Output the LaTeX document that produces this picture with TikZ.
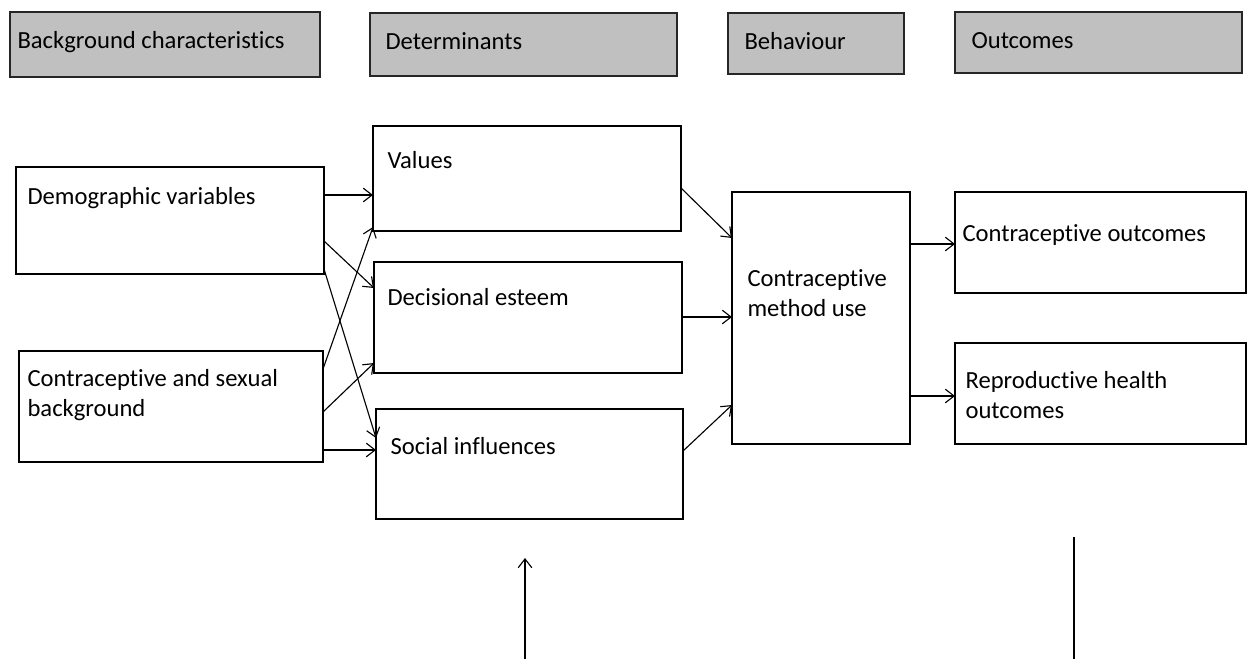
\documentclass[tikz,border=0pt]{standalone}
\usepackage{fontspec}
\setmainfont{Carlito}[Ligatures=NoCommon]
\usetikzlibrary{arrows.meta,fit}

\definecolor{headgray}{RGB}{192,192,192}
\tikzset{
  frame/.style={draw, line width=0.9pt, inner sep=0pt, outer sep=0pt},
  head/.style={frame, fill=headgray, draw=black!85},
  txt/.style={anchor=west, inner sep=0pt, align=left, font=\fontsize{17.5}{21.3}\selectfont},
}

\begin{document}
\begin{tikzpicture}[x=0.025cm,y=-0.025cm,line width=0.8pt,>={Straight Barb[length=2.2mm,width=3.4mm]}]
  \useasboundingbox (0,0) rectangle (1248,659);
  % cabeceras
  \node[head, fit={(10,12)(320,77)}] (h-bg) {};
  \node[head, fit={(370,13)(677,76)}] (h-det) {};
  \node[head, fit={(728,13)(904,74)}] (h-beh) {};
  \node[head, fit={(955,12)(1242,73)}] (h-out) {};
  \node[txt] (h-bg-t) at (17,42) {Background characteristics};
  \node[txt] (h-det-t) at (385,41) {Determinants};
  \node[txt] (h-beh-t) at (744,41) {Behaviour};
  \node[txt] (h-out-t) at (971,41) {Outcomes};
  % cajas
  \node[frame, fit={(16,167)(324,274)}] (demo) {};
  \node[frame, fit={(19,351)(323,462)}] (csb) {};
  \node[frame, fit={(373,126)(681,231)}] (values) {};
  \node[frame, fit={(374,262)(682,373)}] (dec) {};
  \node[frame, fit={(376,409)(683,519)}] (soc) {};
  \node[frame, fit={(732,192)(910,444)}] (cmu) {};
  \node[frame, fit={(955,192)(1246,293)}] (co) {};
  \node[frame, fit={(955,343)(1246,444)}] (rho) {};
  \node[txt] (demo-t) at (27,198) {Demographic variables};
  \node[txt] (csb-t) at (27,395) {Contraceptive and sexual\\background};
  \node[txt] (values-t) at (387,160) {Values};
  \node[txt] (dec-t) at (387,297) {Decisional esteem};
  \node[txt] (soc-t) at (390,446) {Social influences};
  \node[txt] (cmu-t) at (747,293) {Contraceptive\\method use};
  \node[txt] (co-t) at (962,235) {Contraceptive outcomes};
  \node[txt] (rho-t) at (965,395) {Reproductive health\\outcomes};
  % flechas
  \draw[->] (demo.east |- 0,195) -- (values.west |- 0,195);
  \draw[->] (demo.east |- 0,241) -- (dec.west |- 0,288);
  \draw[->] (demo.east |- 0,269) -- (soc.west |- 0,438);
  \draw[->] (csb.east |- 0,369) -- (values.west |- 0,227);
  \draw[->] (csb.east |- 0,412) -- (dec.west |- 0,363);
  \draw[->] (csb.east |- 0,450) -- (soc.west |- 0,450);
  \draw[->] (values.east |- 0,188) -- (cmu.west |- 0,238);
  \draw[->] (dec.east |- 0,317) -- (cmu.west |- 0,317);
  \draw[->] (soc.east |- 0,451) -- (cmu.west |- 0,405);
  \draw[->] (cmu.east |- 0,244) -- (co.west |- 0,244);
  \draw[->] (cmu.east |- 0,396) -- (rho.west |- 0,396);
  % abajo
  \coordinate (low-a) at (525,659);
  \coordinate (low-a-tip) at (525,558);
  \draw[->] (low-a) -- (low-a-tip);
  \coordinate (low-b) at (1074,659);
  \coordinate (low-b-top) at (1074,537);
  \draw[line width=0.9pt] (low-b) -- (low-b-top);
\end{tikzpicture}
\end{document}
